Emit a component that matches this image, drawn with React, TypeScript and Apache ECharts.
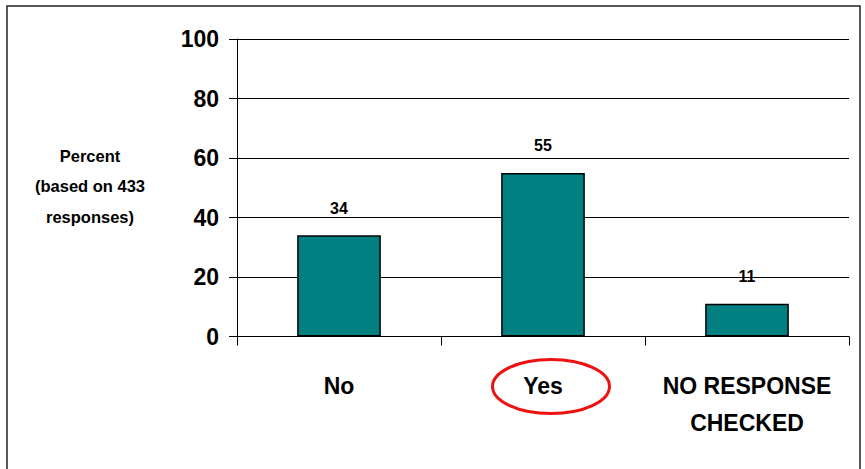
import React, { useEffect, useRef } from "react";
import * as echarts from "echarts";

const categories = ["No", "Yes", "NO RESPONSE\nCHECKED"];
const values = [34, 55, 11];
const yTicks = { min: 0, max: 100, interval: 20 };
const yTitle = "Percent\n(based on 433\nresponses)";

const FONT = "'Liberation Sans', Arial, sans-serif";

export default function App() {
  const ref = useRef<HTMLDivElement>(null);
  useEffect(() => {
    if (!ref.current) return;
    const chart = echarts.init(ref.current, null, { renderer: "svg" });
    chart.setOption({
      animation: false,
      backgroundColor: "#ffffff",
      grid: { left: 237, right: 16, top: 39, bottom: 132.5, containLabel: false },
      xAxis: {
        type: "category",
        data: categories,
        boundaryGap: true,
        axisLine: { show: true, lineStyle: { color: "#000", width: 1 } },
        axisTick: { show: true, length: 9, lineStyle: { color: "#000" } },
        axisLabel: {
          margin: 31,
          color: "#000",
          fontFamily: FONT,
          fontWeight: "bold",
          fontSize: 23,
          lineHeight: 37,
          interval: 0,
        },
      },
      yAxis: {
        type: "value",
        min: yTicks.min,
        max: yTicks.max,
        interval: yTicks.interval,
        axisLine: { show: true, lineStyle: { color: "#000", width: 1 } },
        axisTick: { show: true, inside: false, length: 8, lineStyle: { color: "#000" } },
        splitLine: { show: true, lineStyle: { color: "#000", width: 1 } },
        axisLabel: {
          margin: 18,
          color: "#000",
          fontFamily: FONT,
          fontWeight: "bold",
          fontSize: 23,
        },
      },
      series: [
        {
          type: "bar",
          data: values,
          barWidth: "41%",
          itemStyle: { color: "#008080", borderColor: "#000", borderWidth: 1.5 },
          label: {
            show: true,
            position: "top",
            distance: 19,
            color: "#000",
            fontFamily: FONT,
            fontWeight: "bold",
            fontSize: 16,
          },
        },
      ],
      graphic: [
        {
          type: "rect",
          shape: { x: 7, y: 6, width: 853, height: 480 },
          style: { fill: "none", stroke: "#222", lineWidth: 1.5 },
          silent: true,
        },
        {
          type: "text",
          x: 90,
          y: 186,
          style: {
            text: yTitle,
            fontFamily: FONT,
            fontWeight: "bold",
            fontSize: 16.5,
            lineHeight: 30.5,
            fill: "#000",
            align: "center",
            verticalAlign: "middle",
          },
        },
        {
          type: "ellipse",
          shape: { cx: 551, cy: 386.5, rx: 58.5, ry: 27 },
          style: { fill: "none", stroke: "#ee1111", lineWidth: 3 },
          silent: true,
        },
      ],
    });
    return () => chart.dispose();
  }, []);
  return (
    <div
      ref={ref}
      style={{ position: "fixed", left: 0, top: 0, width: 865, height: 469, background: "#fff" }}
    />
  );
}
